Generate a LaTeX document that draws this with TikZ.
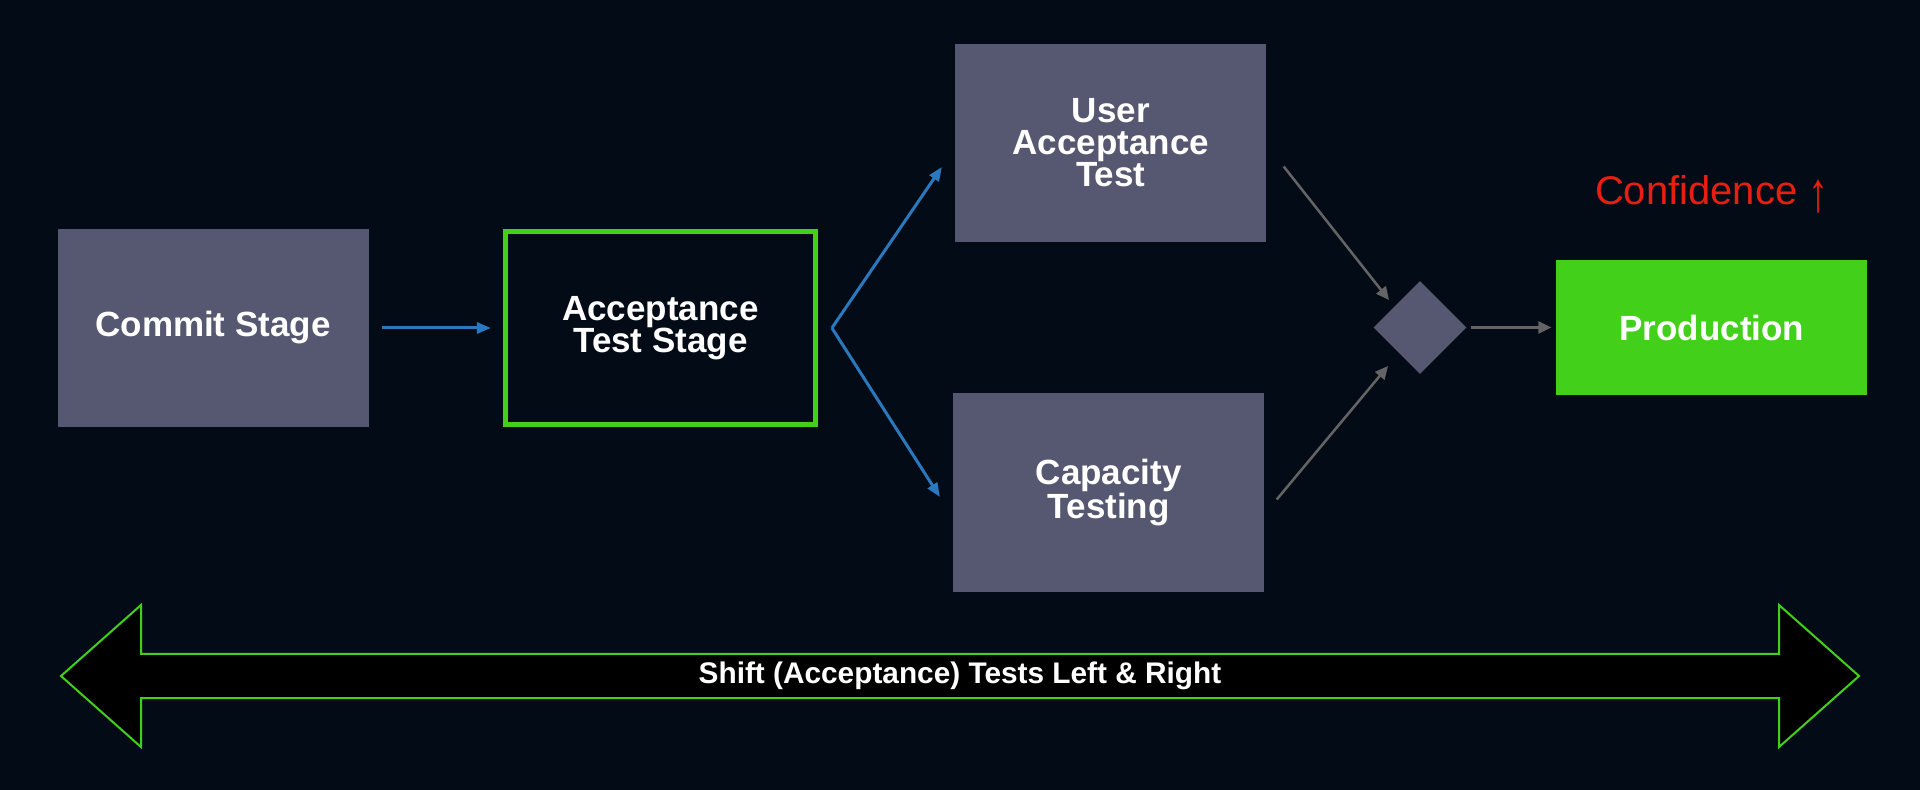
\documentclass[tikz,border=0pt]{standalone}
\usepackage{fontspec}
\usepackage{graphicx}
\setmainfont{Liberation Sans}
\usetikzlibrary{arrows.meta,positioning,shapes.geometric}
\definecolor{bgNavy}{RGB}{3,12,22}
\definecolor{boxGrey}{RGB}{86,87,112}
\definecolor{gGreen}{RGB}{66,208,26}
\definecolor{aBlue}{RGB}{42,120,190}
\definecolor{lGrey}{RGB}{100,100,100}
\definecolor{cRed}{RGB}{232,30,18}

\begin{document}
\begin{tikzpicture}[font=\fontsize{17.5}{16}\selectfont\bfseries,
  b/.style={fill=boxGrey,text=white,align=center,minimum width=155.5pt,minimum height=99pt,inner sep=0pt},
  g/.style={draw=gGreen,line width=2.5pt,text=white,align=center,minimum width=155pt,minimum height=96.25pt,inner sep=0pt},
  p/.style={fill=gGreen,text=white,minimum width=155.5pt,minimum height=67.5pt,inner sep=0pt},
  d/.style={diamond,fill=boxGrey,minimum width=46.5pt,minimum height=46.5pt,inner sep=0pt},
  a/.style={-{Triangle[length=7pt,width=5.5pt]},line width=1.5pt,aBlue},
  ga/.style={-{Triangle[length=6.5pt,width=6pt]},line width=1.25pt,lGrey}]
  \useasboundingbox (0,0) rectangle (960pt,-395pt);
  \fill[bgNavy] (0,0) rectangle (960pt,-395pt);
  % pipeline stages
  \node[b] (commit) at (106.5pt,-164pt) {Commit Stage};
  \node[g,right=67pt of commit] (accept) {Acceptance\\Test Stage};
  \node[b,right=68.5pt of accept,yshift=92.5pt] (uat) {User\\Acceptance\\Test};
  \node[b,right=67.5pt of accept,yshift=-82.25pt] (cap) {Capacity\\Testing};
  \node[d] (gate) at (710pt,-163.75pt) {};
  \node[p,right=44.5pt of gate] (prod) {Production};
  \node[font=\fontsize{20}{24}\selectfont\mdseries,text=cRed,anchor=base] (conf) at ([yshift=27.5pt]prod.north)
    {Confidence \raisebox{-3.5pt}{\scalebox{1}[1.4]{↑}}};
  % connectors
  \coordinate (split) at ([xshift=7pt]accept.east);
  \draw[a,shorten <=6.5pt,shorten >=6pt] (commit)--(accept);
  \foreach \w/\dy in {uat/-12pt,cap/-2.25pt} \draw[a] (split)--([xshift=-6.5pt,yshift=\dy]\w.west);
  \draw[ga] ([xshift=8.5pt,yshift=-11.75pt]uat.east)--([xshift=-15.5pt,yshift=13.75pt]gate.center);
  \draw[ga] ([xshift=6pt,yshift=-3.5pt]cap.east)--([xshift=-16pt,yshift=-19.25pt]gate.center);
  \draw[ga,shorten <=2pt,shorten >=2.25pt] (gate)--(prod);
  % shift left & right band
  \draw[gGreen,line width=1pt,fill=black] (30.5pt,-338pt) -- (70.5pt,-302.5pt) -- (70.5pt,-326.9pt)
    -- (889.5pt,-326.9pt) -- (889.5pt,-302.5pt) -- (929.5pt,-338pt) -- (889.5pt,-373.5pt)
    -- (889.5pt,-349.1pt) -- (70.5pt,-349.1pt) -- (70.5pt,-373.5pt) -- cycle;
  \node[font=\fontsize{14.9}{18}\selectfont\bfseries,text=white] (shift) at (480pt,-338pt) {Shift (Acceptance) Tests Left \& Right};
\end{tikzpicture}
\end{document}
